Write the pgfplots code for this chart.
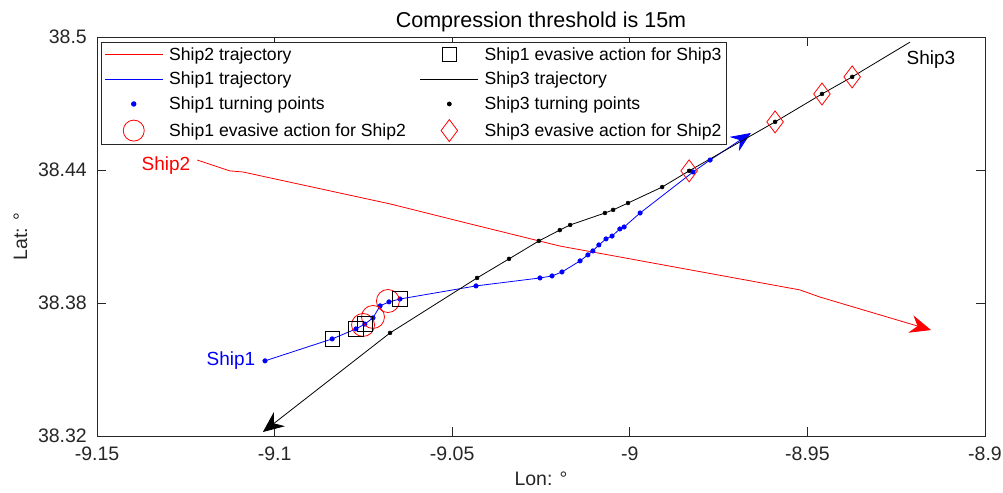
\documentclass[border=0pt]{standalone}
\usepackage{fontspec}
\setmainfont{Liberation Sans}
\usepackage{pgfplots}
\usepackage{pgfplotstable}
\pgfplotsset{compat=1.18}
\usetikzlibrary{arrows.meta}
\definecolor{axgray}{rgb}{0.15,0.15,0.15}

\pgfplotstableread{
x y
-9.1218 38.4445
-9.1126 38.4396
-9.1089 38.4391
-9.0675 38.4247
-9.0450 38.4157
-9.0197 38.4057
-8.9859 38.3958
-8.9521 38.3859
-8.9465 38.3827
-8.9152 38.3678
}\shiptwo

\pgfplotstableread{
x y
-9.1027 38.3539
-9.0838 38.3638
-9.0771 38.3683
-9.0746 38.3705
-9.0723 38.3733
-9.0703 38.3787
-9.0678 38.3805
-9.0647 38.3818
-9.0433 38.3877
-9.0253 38.3913
-9.0219 38.3922
-9.0191 38.3940
-9.0140 38.3990
-9.0118 38.4017
-9.0104 38.4035
-9.0087 38.4062
-9.0067 38.4089
-9.0050 38.4102
-9.0028 38.4134
-9.0016 38.4143
-8.9971 38.4206
-8.9822 38.4391
-8.9774 38.4445
-8.9659 38.4567
}\shipone

\pgfplotstableread{
x y
-9.1027 38.3539
-9.0838 38.3638
-9.0771 38.3683
-9.0746 38.3705
-9.0723 38.3733
-9.0703 38.3787
-9.0678 38.3805
-9.0647 38.3818
-9.0433 38.3877
-9.0253 38.3913
-9.0219 38.3922
-9.0191 38.3940
-9.0140 38.3990
-9.0118 38.4017
-9.0104 38.4035
-9.0087 38.4062
-9.0067 38.4089
-9.0050 38.4102
-9.0028 38.4134
-9.0016 38.4143
-8.9971 38.4206
-8.9822 38.4391
-8.9774 38.4445
}\shiponeturn

\pgfplotstableread{
x y
-8.9211 38.4977
-8.9374 38.4820
-8.9459 38.4743
-8.9591 38.4617
-8.9833 38.4396
-8.9909 38.4323
-9.0005 38.4251
-9.0047 38.4220
-9.0070 38.4206
-9.0168 38.4152
-9.0197 38.4129
-9.0256 38.4080
-9.0340 38.3999
-9.0430 38.3913
-9.0675 38.3665
-9.1033 38.3218
}\shipthree

\pgfplotstableread{
x y
-8.9374 38.4820
-8.9459 38.4743
-8.9591 38.4617
-8.9833 38.4396
-8.9909 38.4323
-9.0005 38.4251
-9.0047 38.4220
-9.0070 38.4206
-9.0168 38.4152
-9.0197 38.4129
-9.0256 38.4080
-9.0340 38.3999
-9.0430 38.3913
-9.0675 38.3665
}\shipthreeturn

\pgfplotstableread{
x y
-9.0751 38.3701
-9.0723 38.3737
-9.0681 38.3809
}\evaonetwo

\pgfplotstableread{
x y
-9.0838 38.3638
-9.0771 38.3683
-9.0746 38.3705
-9.0647 38.3818
}\evaonethree

\pgfplotstableread{
x y
-8.9374 38.4820
-8.9459 38.4743
-8.9591 38.4617
-8.9833 38.4396
}\evathreetwo

\begin{document}
\begin{tikzpicture}
\begin{axis}[
  scale only axis, width=888bp, height=399bp,
  xmin=-9.15, xmax=-8.9, ymin=38.32, ymax=38.5,
  xtick={-9.15,-9.1,-9.05,-9,-8.95,-8.9},
  xticklabels={-9.15,-9.1,-9.05,-9,-8.95,-8.9},
  ytick={38.32,38.38,38.44,38.5},
  yticklabels={38.32,38.38,38.44,38.5},
  tick align=inside, major tick length=9bp,
  axis line style={axgray, line width=0.75bp},
  every tick/.style={axgray, line width=0.75bp},
  xticklabel style={font=\fontsize{19.5bp}{23bp}\selectfont, text=axgray, anchor=north, inner sep=0pt, yshift=-11bp},
  yticklabel style={font=\fontsize{19.5bp}{23bp}\selectfont, text=axgray, anchor=east, inner sep=0pt, xshift=-10bp},
  title={Compression threshold is 15m},
  every axis title/.style={at={(axis description cs:0.5,1.0226)}, anchor=base, inner sep=0pt, font=\fontsize{21.5bp}{25bp}\selectfont, text=black},
  xlabel={Lon: °}, ylabel={Lat: °},
  every axis x label/.style={at={(axis description cs:0.5,-0.1253)}, anchor=base, inner sep=0pt, font=\fontsize{19.5bp}{23bp}\selectfont, text=axgray},
  every axis y label/.style={at={(axis description cs:-0.0788,0.5)}, rotate=90, anchor=base, inner sep=0pt, font=\fontsize{19.5bp}{23bp}\selectfont, text=axgray},
  legend columns=2,
  legend image code/.code={\draw[mark repeat=2,mark phase=2,#1] plot coordinates {(0bp,0bp) (29bp,0bp) (58bp,0bp)};},
  legend style={at={(0.0045,0.9875)}, anchor=north west, draw=axgray, line width=0.75bp,
    font=\fontsize{17.6bp}{21bp}\selectfont, text=black, inner xsep=3bp, inner ysep=3bp,
    row sep=6.5bp, nodes={inner sep=2bp}, cells={anchor=west},
    /tikz/every odd column/.append style={column sep=4bp},
    /tikz/every even column/.append style={column sep=12bp}},
]
% trajectories
\addplot[red, line width=0.8bp, forget plot, -{Stealth[length=21bp,width=18bp,inset=7bp]}] table[x=x,y=y] {\shiptwo};
\addplot[blue, line width=0.8bp, forget plot, -{Stealth[length=20bp,width=17bp,inset=7bp]}] table[x=x,y=y] {\shipone};
\addplot[black, line width=0.8bp, forget plot, -{Stealth[length=21bp,width=18bp,inset=7bp]}] table[x=x,y=y] {\shipthree};
% turning points
\addplot[only marks, mark=*, blue, mark size=2.3bp, forget plot] table[x=x,y=y] {\shiponeturn};
\addplot[only marks, mark=*, black, mark size=2bp, forget plot] table[x=x,y=y] {\shipthreeturn};
% evasive actions
\addplot[only marks, mark=o, red, mark size=11.5bp, line width=0.8bp, forget plot] table[x=x,y=y] {\evaonetwo};
\addplot[only marks, mark=square, black, mark size=7.2bp, line width=0.8bp, forget plot] table[x=x,y=y] {\evaonethree};
\addplot[only marks, mark=diamond, red, mark size=11bp, line width=0.8bp, forget plot] table[x=x,y=y] {\evathreetwo};
% annotations
\node[red, font=\fontsize{19bp}{23bp}\selectfont] at (axis cs:-9.1306,38.4420) {Ship2};
\node[blue, font=\fontsize{19bp}{23bp}\selectfont] at (axis cs:-9.1123,38.3539) {Ship1};
\node[black, font=\fontsize{19bp}{23bp}\selectfont] at (axis cs:-8.9152,38.4896) {Ship3};
% legend (row-wise)
\addlegendimage{red, line width=0.8bp}
\addlegendentry{Ship2 trajectory}
\addlegendimage{only marks, mark=square, black, mark size=7.2bp, line width=0.8bp}
\addlegendentry{Ship1 evasive action for Ship3}
\addlegendimage{blue, line width=0.8bp}
\addlegendentry{Ship1 trajectory}
\addlegendimage{black, line width=0.8bp}
\addlegendentry{Ship3 trajectory}
\addlegendimage{only marks, mark=*, blue, mark size=2.3bp}
\addlegendentry{Ship1 turning points}
\addlegendimage{only marks, mark=*, black, mark size=2bp}
\addlegendentry{Ship3 turning points}
\addlegendimage{only marks, mark=o, red, mark size=10.5bp, line width=0.8bp}
\addlegendentry{Ship1 evasive action for Ship2}
\addlegendimage{only marks, mark=diamond, red, mark size=11bp, line width=0.8bp}
\addlegendentry{Ship3 evasive action for Ship2}
\end{axis}
\pgfresetboundingbox
\path ([shift={(-97bp,-57bp)}]current axis.south west) rectangle ([shift={(18bp,37bp)}]current axis.north east);
\end{tikzpicture}
\end{document}
